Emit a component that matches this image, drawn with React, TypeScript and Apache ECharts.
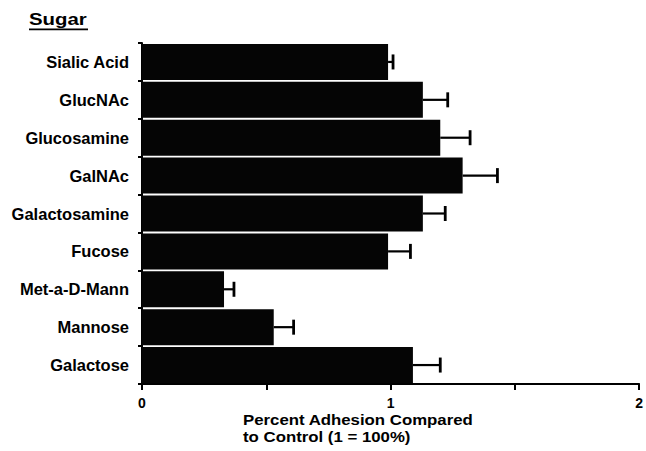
import React, { useEffect, useRef } from "react";
import * as echarts from "echarts";

const categories = [
  "Sialic Acid",
  "GlucNAc",
  "Glucosamine",
  "GalNAc",
  "Galactosamine",
  "Fucose",
  "Met-a-D-Mann",
  "Mannose",
  "Galactose",
];
const values = [0.99, 1.13, 1.2, 1.29, 1.13, 0.99, 0.33, 0.53, 1.09];
const errorTops = [1.01, 1.23, 1.32, 1.43, 1.22, 1.08, 0.37, 0.61, 1.2];
const xTicks = [0, 1, 2];

const FONT = "'Liberation Sans', Arial, Helvetica, sans-serif";

export default function App() {
  const ref = useRef<HTMLDivElement>(null);
  useEffect(() => {
    if (!ref.current) return;
    const chart = echarts.init(ref.current, null, { renderer: "svg" });
    const errData = values.map((v, i) => [i, v, errorTops[i]]);
    chart.setOption({
      animation: false,
      backgroundColor: "#ffffff",
      textStyle: { fontFamily: FONT },
      grid: { left: 142, top: 43, width: 501, height: 341 },
      xAxis: {
        type: "value",
        min: 0,
        max: 2,
        interval: 0.5,
        splitLine: { show: false },
        axisLine: { show: true, lineStyle: { color: "#000", width: 2 } },
        axisTick: { show: true, length: 6, inside: false, lineStyle: { color: "#000", width: 2 } },
        axisLabel: {
          margin: 12,
          color: "#000",
          fontFamily: FONT,
          fontSize: 14,
          fontWeight: "bold",
          formatter: (v: number) => (xTicks.includes(v) ? String(v) : ""),
        },
      },
      yAxis: {
        type: "category",
        data: categories,
        inverse: true,
        axisLine: { show: true, lineStyle: { color: "#000", width: 2 } },
        axisTick: { show: true, length: 4, lineStyle: { color: "#000", width: 2 } },
        axisLabel: {
          margin: 13,
          color: "#000",
          fontFamily: FONT,
          fontSize: 16.5,
          fontWeight: "bold",
          padding: [6, 0, 0, 0],
        },
      },
      series: [
        {
          type: "bar",
          data: values,
          barCategoryGap: "5%",
          itemStyle: { color: "#050505" },
        },
        {
          type: "custom",
          data: errData,
          encode: { x: [1, 2], y: 0 },
          renderItem: (params: any, api: any) => {
            const cat = api.value(0);
            const start = api.coord([api.value(1), cat]);
            const end = api.coord([api.value(2), cat]);
            const half = 7.5;
            return {
              type: "group",
              children: [
                {
                  type: "line",
                  shape: { x1: start[0], y1: start[1], x2: end[0], y2: end[1] },
                  style: { stroke: "#000", lineWidth: 2.2 },
                },
                {
                  type: "line",
                  shape: { x1: end[0], y1: end[1] - half, x2: end[0], y2: end[1] + half },
                  style: { stroke: "#000", lineWidth: 2.8 },
                },
              ],
            };
          },
          z: 3,
        },
      ],
      graphic: [
        {
          type: "text",
          x: 29,
          y: 11,
          scaleX: 1.2,
          style: { text: "Sugar", fontFamily: FONT, fontSize: 17, fontWeight: "bold", fill: "#000" },
        },
        {
          type: "rect",
          shape: { x: 29, y: 28.5, width: 59, height: 1.8 },
          style: { fill: "#000" },
        },
        {
          type: "text",
          x: 243,
          y: 412,
          scaleX: 1.2,
          style: {
            text: "Percent Adhesion Compared\nto Control (1 = 100%)",
            fontFamily: FONT,
            fontSize: 14,
            fontWeight: "bold",
            lineHeight: 17,
            fill: "#000",
          },
        },
      ],
    });
    return () => chart.dispose();
  }, []);
  return (
    <div
      ref={ref}
      style={{ position: "fixed", left: 0, top: 0, width: 646, height: 451, background: "#fff" }}
    />
  );
}
